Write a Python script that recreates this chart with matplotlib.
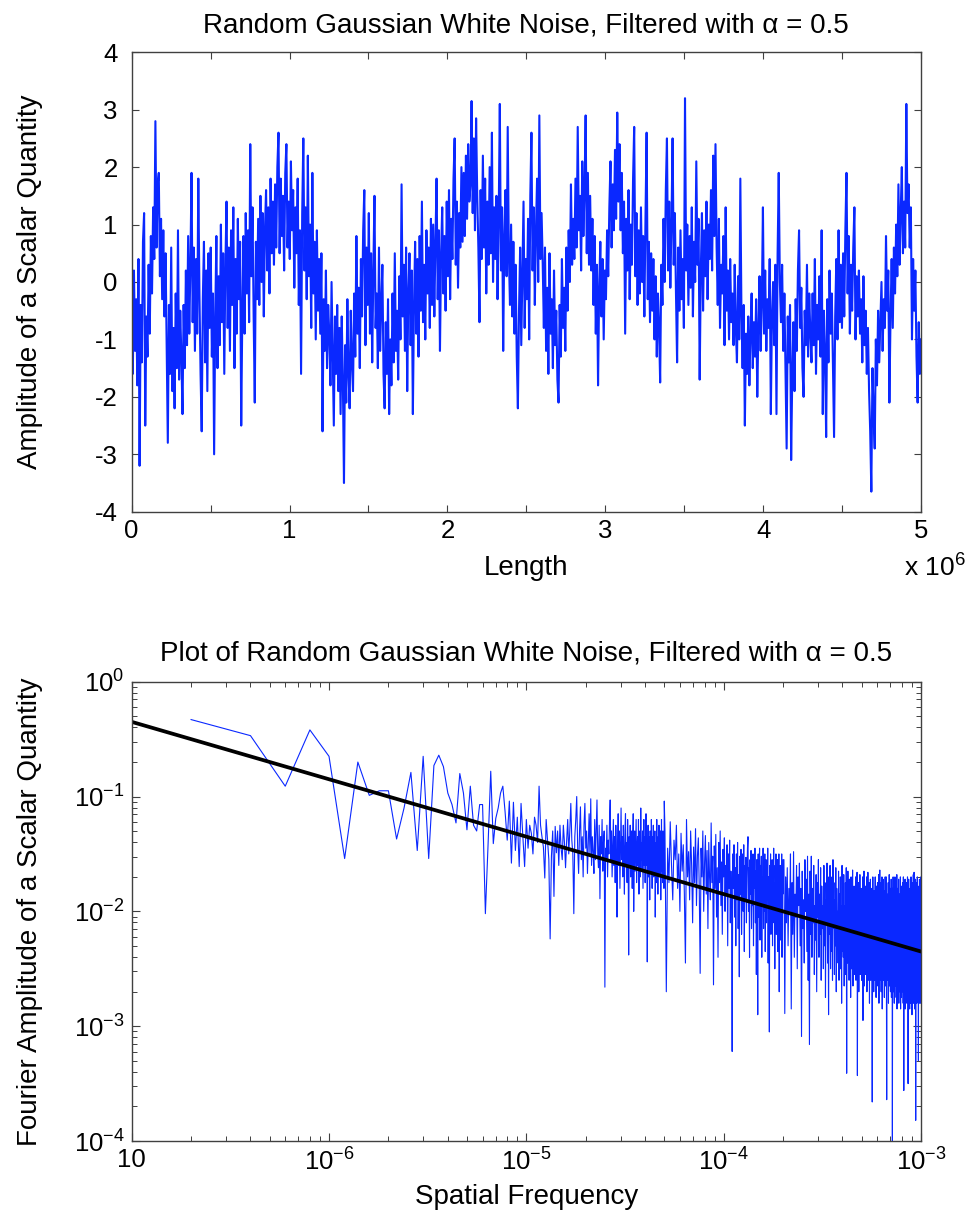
import numpy as np
import matplotlib
matplotlib.use('Agg')
import matplotlib.pyplot as plt
from matplotlib.ticker import FixedLocator, LogLocator, NullFormatter, FixedFormatter

plt.rcParams['font.family'] = ['Liberation Sans', 'DejaVu Sans']
plt.rcParams['mathtext.fontset'] = 'custom'
plt.rcParams['mathtext.rm'] = 'Liberation Sans'
plt.rcParams['mathtext.default'] = 'regular'

# ---------------- data: top panel (amplitude along length, 0 .. 5e6) ----------------
length_max = 5e6
top_amp = [
    -0.5, -1.6, 0.2, -1.2, -0.3, -1.8, 0.4, -3.2, -0.4, -1.4, 0.7, 1.2, -2.5, -0.6,
    -1.3, 0.3, -0.9, 0.8, -0.2, 1.3, 0.4, 2.8, 0.6, 1.7, 1.9, 0.1, 1.1, -0.3,
    0.9, -0.6, 0.5, -1.2, -2.8, -0.4, -1.6, 0.6, -1.9, -0.8, -2.2, -0.2, -1.5, 0.9,
    -1.7, -0.5, -1.3, -2.3, -0.4, -1.5, 0.2, -1.1, 0.8, -0.9, 0.3, 1.9, -0.7, 0.6,
    -1.2, 0.4, -0.9, 1.8, -0.2, -1.6, -2.6, -0.3, 0.7, -1.4, 0.2, -1.9, 0.5, -0.8,
    0.6, -1.3, -0.2, -3.0, -0.6, 0.8, -1.5, 0.1, -1.1, 1.0, -0.7, 0.5, -1.6, 0.3,
    1.4, -0.8, 0.6, -1.2, 0.9, -0.4, 1.3, -1.5, 0.4, -0.9, 1.1, -0.3, 0.7, -2.5,
    -0.5, 0.8, -0.9, 1.2, -0.2, 0.9, -0.7, 2.4, 0.1, 1.3, -0.6, -2.1, 0.7, -0.3,
    1.1, -0.4, 1.5, 0.0, 1.2, -0.6, 0.9, 1.6, 0.2, 1.3, -0.2, 1.8, 0.5, 1.4,
    0.3, 1.7, 0.6, 2.0, 2.6, 0.5, 1.8, 0.8, 1.5, 0.2, 1.9, 2.4, 0.6, 1.4,
    0.4, 2.1, 0.9, 1.6, -0.1, 1.3, 0.5, 1.8, -0.4, 0.9, -1.6, 1.2, 2.5, 0.2,
    1.3, -0.3, 2.2, 0.1, 1.0, -0.8, 1.9, -0.2, 0.7, -1.0, 0.9, -0.5, 0.4, -0.9,
    0.5, -2.6, -0.3, -1.2, 0.2, -1.5, -0.4, -0.9, -1.8, 0.0, -1.3, -2.5, -0.6, -1.6,
    -0.4, -1.9, -0.8, -2.3, -0.6, -1.7, -3.5, -1.1, -2.1, -0.3, -1.6, -2.2, -0.5, -1.4,
    -1.9, -0.2, -1.3, 0.8, -0.9, -0.1, -1.5, 0.4, -0.6, 0.9, 1.6, -1.1, 0.6, -0.4,
    1.2, -0.9, 0.5, -1.4, 0.2, 1.5, -0.8, -0.2, -1.5, 0.6, -1.2, -0.4, 0.3, -1.6,
    -2.2, -0.7, -1.6, -0.3, -2.3, -1.0, -1.8, -0.2, -1.4, 0.5, -1.2, -0.5, -1.7, 0.1,
    -1.0, 1.7, -0.6, 0.3, -1.2, 0.6, -1.9, -0.2, 0.5, -1.1, 0.2, -2.3, -0.4, 0.7,
    -0.9, 0.4, -1.3, 0.8, -0.5, 1.4, -0.7, 0.3, -1.0, 0.9, -0.2, 0.6, -0.8, 1.1,
    -0.4, 1.0, -0.6, 0.7, 1.8, -0.3, 0.9, -1.2, 0.5, 1.3, -0.2, 0.8, -0.5, 1.4,
    0.1, 1.6, -0.3, 1.1, 0.4, 1.8, 2.5, 0.3, 1.4, -0.1, 1.2, 0.6, 2.0, 0.7,
    1.9, 0.8, 2.2, 1.1, 2.4, 1.4, 1.7, 3.15, 1.2, 2.5, 0.9, 2.85, 1.5, 0.6,
    -0.7, 1.6, 0.4, 2.2, 0.6, 1.8, -0.2, 1.4, 0.3, 2.0, 0.5, 2.6, 0.0, 1.3,
    0.4, 1.5, -0.3, 1.1, 3.1, 0.2, 1.3, -1.2, 0.8, 1.6, 0.1, 2.7, 0.5, -0.4,
    1.0, -0.6, 0.7, -0.9, 0.3, -1.3, -2.2, -0.5, 0.6, -1.1, 0.2, 1.4, -0.8, 0.4,
    -0.3, 1.1, -1.0, 1.5, 2.6, 0.2, 1.3, -0.4, 0.9, 1.8, 0.0, 2.9, 0.4, 1.2,
    0.3, -0.8, 0.6, -1.2, -0.1, -1.6, 0.5, -0.9, -0.3, -1.5, 0.2, -1.1, -0.5, -1.7,
    -2.1, -0.4, -1.3, 0.4, -0.8, -0.1, -1.2, 0.6, -0.5, 0.9, 0.0, 1.7, 0.3, 1.1,
    0.4, 1.8, 0.6, 2.7, 0.9, 1.5, 0.2, 2.1, 0.8, 1.6, 2.9, 0.5, 1.9, 0.3,
    1.5, 0.2, 1.1, -0.4, 0.8, -0.9, 0.3, -1.8, -0.1, 0.7, -0.6, 0.4, -1.0, 0.2,
    -0.3, 0.9, 0.1, 1.3, 2.1, 0.6, 1.7, 0.9, 2.3, 1.1, 2.95, 1.4, 2.4, 0.9,
    1.9, 0.5, 1.4, -0.9, 1.1, 0.2, 1.6, -0.3, 1.0, 0.3, 1.8, 2.7, 0.1, 1.2,
    -0.4, 0.9, -0.2, 1.3, 0.0, 0.8, -0.6, 1.1, 2.6, -0.3, 0.7, -0.7, 0.5, -0.5,
    0.4, -1.0, 0.1, -1.3, -0.2, -0.8, -1.75, 0.3, -0.4, 1.1, 0.0, 1.6, 2.5, 0.2,
    1.4, -0.1, 1.0, 2.5, 0.3, 1.2, -0.2, -1.4, 0.6, -0.5, 0.9, -0.3, 0.4, -0.8,
    3.2, 0.2, 1.0, -0.4, 0.8, -0.1, 1.3, -0.6, 0.7, 0.0, 2.1, 0.3, 1.1, -1.7,
    0.2, 1.2, -0.5, 0.9, 0.1, 1.4, -0.3, 1.0, 0.4, 1.6, 0.2, 2.2, 0.8, 2.4,
    0.6, -0.4, 1.1, -0.8, 0.3, -0.2, 0.8, -1.1, 1.3, -0.5, 0.2, -1.0, 0.4, -0.7,
    -0.2, -1.1, 0.3, -0.8, -1.4, 0.1, -1.0, 1.8, -0.6, -1.5, -0.4, -2.5, -0.9, -1.6,
    -0.6, -1.8, -0.9, -0.2, -1.5, -0.7, -1.3, -0.3, -2.0, -0.8, 0.1, -1.2, -0.4, 1.3,
    -0.9, 0.2, -1.2, -0.3, -0.8, 0.4, -2.3, -0.6, 0.0, -1.1, 0.3, -2.3, 0.5, 1.9,
    0.0, -0.7, 0.3, -1.2, -0.2, -1.5, -2.9, -0.6, -1.4, -0.4, -3.1, -1.6, -0.7, -1.9,
    -0.3, -1.2, 0.2, 0.9, -0.8, -0.1, -1.5, -2.0, -0.5, -1.1, 0.3, -1.3, -0.2, -0.9,
    -1.4, -0.2, -1.1, 0.4, -1.6, -0.4, -1.0, 0.1, -1.3, 0.9, -2.3, -0.5, -1.2, -2.7,
    -0.3, -1.4, 0.2, -0.9, -0.2, -1.5, -2.7, -0.6, 0.4, -1.0, 0.9, -0.7, 0.3, -0.8,
    0.5, -0.6, 0.9, 1.9, -0.2, 0.8, -0.9, 0.3, -0.5, 0.6, 1.3, -1.0, 0.1, -0.6,
    0.2, -0.9, -0.3, -1.4, 0.1, -1.1, -0.5, -1.6, -0.8, -1.9, -2.6, -3.65, -1.5, -2.3,
    -2.9, -1.0, -1.8, -0.5, -1.4, -0.7, 0.0, -1.2, -0.3, -0.8, 0.8, -0.5, 0.2, -2.1,
    -0.6, 0.4, -0.8, 0.6, -0.2, 1.0, 0.1, 1.7, 0.3, 1.2, 2.0, 0.5, 1.4, 0.6,
    3.1, 1.2, 1.7, 0.6, 1.3, -1.0, 0.4, -0.5, 0.2, -1.3, -2.1, -0.7, -1.6, -1.0,
]

# ---------------- data: bottom panel (Fourier spectrum) ----------------
freq_step = 2e-7  # spacing of the frequency grid (1 / 5e6)
# log10 amplitude, harmonics k = 1 .. 250
spec_log10_low = [
    -0.33, -0.47, -0.91, -0.42, -0.65, -1.54, -0.70, -0.99, -0.95, -0.95,
    -1.37, -1.10, -0.79, -1.47, -0.65, -1.54, -0.73, -0.64, -0.74, -0.97,
    -1.07, -1.23, -0.80, -0.97, -1.29, -0.91, -1.25, -1.30, -1.07, -1.07,
    -2.02, -1.41, -0.78, -1.41, -1.19, -1.10, -0.97, -0.91, -1.13, -1.38,
    -1.04, -1.58, -1.05, -1.47, -1.18, -1.61,
    -1.06, -1.35, -1.61, -1.2, -1.45, -1.25, -1.32, -1.5, -1.18, -1.25,
    -1.4, -0.91, -1.25, -1.35, -1.44, -1.71, -1.2, -1.38, -1.55, -2.24,
    -1.52, -1.3, -1.87, -1.26, -1.49, -1.3, -1.6, -1.25, -1.45, -1.55,
    -1.25, -1.4, -1.62, -1.39, -1.2, -1.5, -1.3, -1.06, -1.38, -1.5,
    -2.02, -1.35, -1.2, -1.0, -1.45, -1.67, -1.3, -1.09, -1.55, -1.35,
    -1.70, -1.25, -1.06, -1.45, -1.3, -1.67, -1.4, -1.15, -1.5, -1.02,
    -1.6, -1.35, -1.48, -1.67, -1.2, -1.55, -1.3, -1.03, -1.5, -1.62,
    -1.25, -1.89, -1.35, -1.5, -1.2, -1.65, -1.4, -1.3, -2.66, -1.45,
    -1.55, -1.25, -1.7, -1.38, -1.5, -1.2, -1.03,
    -1.55, -1.3, -1.7, -1.45, -1.2, -1.6, -1.35, -1.75, -1.25, -1.5,
    -2.05, -1.4, -1.15, -1.6, -1.3, -1.8, -1.45, -1.1, -1.55, -1.35,
    -1.7, -1.25, -1.5, -1.85, -1.3, -1.15, -1.6, -1.4, -1.75, -1.2,
    -1.5, -2.38, -1.35, -1.6, -1.25, -1.7, -1.45, -1.3, -1.8, -1.4,
    -1.15, -2.0, -1.55, -1.3, -1.65, -1.4, -1.2, -1.75, -1.5, -1.35,
    -1.6, -1.2, -1.85, -1.45, -1.3, -1.7, -1.1, -1.55, -1.4, -1.65,
    -1.3, -1.8, -1.5, -1.2, -1.6, -1.35, -1.75, -1.45, -1.15, -1.6,
    -1.4, -2.44, -1.5, -1.25, -1.7, -1.35, -1.55, -1.9, -1.3, -1.45,
    -1.65, -1.2, -1.5, -1.8, -1.35, -1.6, -1.25, -1.7, -1.45, -1.55,
    -1.3, -2.05, -1.5, -1.4, -1.75, -1.2, -1.6, -1.45, -1.85, -1.35,
    -1.55, -1.25, -1.7, -1.4, -1.6, -1.3, -1.9, -1.5, -1.2, -1.65,
    -1.45, -1.75, -1.3, -1.6, -1.4, -1.8, -1.04,
]
# log10 amplitude, harmonics k = 252, 256, ..., 1000
spec_log10_mid = [
    -1.3, -2.7, -1.45, -1.75, -1.22, -1.6, -1.9, -1.38, -1.55, -1.25,
    -1.8, -1.5, -2.0, -1.32, -1.65, -1.42, -1.85, -2.45, -1.2, -1.7,
    -1.48, -1.9, -1.3, -1.6, -2.1, -1.44, -1.75, -1.28, -1.95, -1.52,
    -1.36, -1.8,
    -2.54, -1.45, -1.7, -1.3, -2.0, -1.58, -1.34, -1.85, -1.47, -2.15,
    -1.4, -1.7, -1.9, -1.23, -1.75, -1.52, -2.64, -1.43, -1.8, -1.33,
    -2.05, -1.62, -2.4, -1.4, -1.75, -1.3, -1.95, -1.57, -2.2, -1.46,
    -1.7, -1.36, -2.0, -1.6, -1.85, -1.42, -2.3, -1.5, -1.8, -1.38,
    -2.1, -1.65, -1.9, -3.22, -1.5,
    -1.8, -1.42, -2.05, -1.62, -2.3, -1.5, -1.9, -1.4, -2.15, -1.68,
    -2.57, -1.52, -1.85, -1.46, -2.2, -1.72, -1.5, -2.0, -1.42, -2.35,
    -1.6, -1.9, -1.53, -2.1, -1.7, -1.45, -1.35, -2.0, -1.62, -2.4,
    -1.55, -1.85, -1.47, -2.15, -1.74, -1.95, -1.5, -2.3, -1.6, -1.8,
    -1.45, -2.1, -1.65, -2.55, -1.55, -1.9, -2.9, -1.5, -2.05, -1.7,
    -1.45, -2.25, -1.6, -1.85, -1.52, -2.4, -1.7, -1.95, -1.45, -2.15,
    -1.6, -2.0, -1.5, -2.35, -1.75, -1.55, -2.1, -1.65, -1.9, -1.45,
    -2.45, -1.7, -2.0, -3.05, -1.6, -1.85, -1.5, -2.2, -1.72, -1.95,
    -1.55, -2.3, -1.65, -1.9, -1.45, -2.1, -1.75, -2.5, -1.6, -1.85,
    -1.5, -2.2, -1.7, -2.0, -1.55, -2.35, -1.65, -1.9, -1.5, -2.7,
    -1.75, -2.05, -1.6, -2.25, -1.7, -1.95, -1.5, -2.4, -1.65, -1.85,
    -1.55,
]
# log10 amplitude, harmonics k = 1010, 1020, ..., 5000
spec_log10_high = [
    -1.55, -2.89, -1.7, -2.1, -1.62, -2.3, -1.8, -2.0, -1.5, -2.85,
    -1.75, -2.2, -1.48, -2.4, -1.85, -2.05, -1.6, -2.5, -1.7, -1.95,
    -1.58, -2.3, -1.8, -3.09, -1.65, -2.15, -1.9, -2.45, -1.55, -2.0,
    -1.72, -2.35, -1.52, -2.6, -1.85, -3.16, -1.65, -2.2, -1.52, -2.4,
    -1.8, -2.1, -1.6, -2.55, -1.95, -2.25, -1.68, -2.7, -1.75, -2.05,
    -1.55, -2.4, -1.85, -2.2, -1.62, -2.6, -1.78, -2.15, -1.95, -2.5,
    -1.6, -2.3, -1.75, -2.75, -1.9, -2.1, -1.58, -2.45, -1.7, -2.9,
    -1.82, -2.2, -1.6, -2.5, -1.95, -2.35, -1.7, -2.6, -1.55, -2.15,
    -1.75, -2.55, -1.9, -2.3, -1.62, -2.7, -1.8, -2.25, -2.0, -2.45,
    -1.65, -2.6, -1.85, -2.2, -1.7, -2.5, -1.95, -2.8, -1.6, -2.35,
    -1.85, -2.4, -1.68, -2.65, -1.95, -2.3, -1.75, -2.55, -1.62, -3.41,
    -1.8, -2.45, -1.65, -2.2, -1.9, -2.6, -1.72, -2.35, -2.0, -2.75,
    -1.7, -2.5, -1.88, -2.3, -1.64, -2.65, -1.95, -2.4, -1.78, -2.55,
    -1.9, -2.3, -1.7, -2.6, -2.02, -2.45, -1.66, -3.43, -1.85, -2.35,
    -1.75, -2.7, -1.95, -2.4, -1.68, -2.55, -1.9, -2.3, -1.8, -2.6,
    -2.0, -2.5, -1.7, -2.95, -1.88, -2.4, -1.65, -2.65, -1.95, -2.35,
    -1.78, -2.55, -1.98, -2.45, -1.7, -2.7, -1.9, -2.4, -1.66, -2.6,
    -1.95, -2.5, -1.75, -2.8, -2.05, -2.35, -1.72, -2.6, -1.9, -2.45,
    -1.8, -2.65, -3.66, -2.4, -1.7, -2.55, -2.0, -2.7, -1.82, -2.45,
    -2.05, -2.6, -1.7, -2.5, -1.92, -2.75, -1.78, -2.4, -2.1, -2.65,
    -1.75, -2.55, -2.0, -2.45, -1.68, -2.8, -1.9, -2.5, -1.64, -2.6,
    -1.98, -2.4, -1.75, -2.7, -2.08, -2.5, -1.7, -2.85, -1.88, -2.45,
    -1.72, -2.6, -2.0, -2.5, -1.82, -2.75, -2.1, -2.4, -1.7, -2.65,
    -1.95, -2.55, -1.7, -2.7, -3.64, -2.45, -1.85, -2.6, -2.05, -2.5,
    -1.75, -2.8, -1.98, -2.45, -1.68, -2.65, -2.1, -2.55, -1.8, -2.7,
    -2.0, -2.5, -1.72, -2.75, -1.92, -2.6, -1.8, -4.2, -2.05, -2.55,
    -1.7, -2.7, -2.1, -2.45, -1.82, -2.8, -1.95, -2.55, -1.7, -2.65,
    -2.05, -2.5, -1.75, -2.75, -1.98, -2.6, -1.68, -2.85, -2.1, -2.45,
    -1.8, -2.7, -2.0, -2.55, -1.72, -2.8, -2.08, -2.6, -1.85, -2.7,
    -1.95, -2.5, -1.7, -2.85, -2.1, -2.6, -1.78, -2.75, -2.0, -2.55,
    -2.08, -2.7, -1.75, -2.6, -1.95, -2.8, -1.7, -2.65, -3.56, -2.5,
    -1.82, -2.75, -2.1, -2.55, -1.72, -2.85, -1.95, -2.6, -2.05, -2.7,
    -1.75, -2.6, -1.98, -2.8, -2.1, -2.5, -1.7, -2.7, -1.9, -3.5,
    -2.05, -2.65, -1.72, -2.75, -1.95, -2.55, -2.12, -2.85, -1.8, -2.6,
    -1.9, -2.8, -2.08, -2.6, -1.7, -2.7, -2.0, -2.55, -1.82, -2.9,
    -1.75, -2.65, -2.05, -2.75, -1.92, -2.6, -1.68, -2.8, -2.1, -2.7,
    -1.66, -2.6, -2.0, -2.85, -1.8, -2.55, -2.1, -2.75, -1.72, -3.82,
    -1.95, -2.7, -1.75, -2.6, -2.08, -2.8, -1.85, -2.65, -1.7, -2.75,
    -2.0, -2.6, -1.78, -2.85, -3.3, -2.7, -1.95, -2.55, -2.1, -2.8,
    -1.72, -2.65, -2.05, -2.75, -1.85, -2.6, -1.98, -2.8, -1.7, -2.5,
]
# straight power-law fit line (end points)
fit_freq = [1e-7, 1e-3]
fit_amp = [0.447, 0.00447]

x_tick_labels_top = ['0', '1', '2', '3', '4', '5']
x_tick_labels_bottom = ['10', '$10^{-6}$', '$10^{-5}$', '$10^{-4}$', '$10^{-3}$']
y_tick_labels_bottom = ['$10^{-4}$', '$10^{-3}$', '$10^{-2}$', '$10^{-1}$', '$10^{0}$']

# ---------------- build arrays ----------------
top_y = np.array(top_amp)
top_x = np.linspace(0, length_max, len(top_y))

k_low = np.arange(1, len(spec_log10_low) + 1)
k_mid = 252 + 4 * np.arange(len(spec_log10_mid))
k_high = 1010 + 10 * np.arange(len(spec_log10_high))
spec_k = np.concatenate([k_low, k_mid, k_high])
spec_f = spec_k * freq_step
spec_a = 10.0 ** np.concatenate([spec_log10_low, spec_log10_mid, spec_log10_high])

# ---------------- figure ----------------
fig = plt.figure(figsize=(9.74, 12.21), dpi=100)
spine_col = '#404040'
blue = '#0a28ff'

ax1 = fig.add_axes([0.1352, 0.5809, 0.8104, 0.3763])
ax1.plot(top_x, top_y, color=blue, lw=1.5)
ax1.set_xlim(0, length_max)
ax1.set_ylim(-4, 4)
ax1.xaxis.set_major_locator(FixedLocator(np.arange(0, 5.01, 1) * 1e6))
ax1.xaxis.set_major_formatter(FixedFormatter(x_tick_labels_top))
ax1.xaxis.set_minor_locator(FixedLocator(np.arange(0.5, 5, 1) * 1e6))
ax1.set_yticks(np.arange(-4, 4.1, 1))
ax1.set_yticklabels([str(v) for v in range(-4, 5)])
ax1.tick_params(which='both', direction='in', top=True, right=True, length=5,
                width=0.8, color=spine_col)
ax1.tick_params(axis='x', labelsize=18.5, pad=5)
ax1.tick_params(axis='y', labelsize=18.5, pad=10)
for s in ax1.spines.values():
    s.set_color(spine_col)
    s.set_linewidth(1.0)
ax1.set_title('Random Gaussian White Noise, Filtered with α = 0.5', fontsize=20, pad=14)
ax1.set_xlabel('Length', fontsize=20)
ax1.xaxis.set_label_coords(0.5, -0.094)
ax1.set_ylabel('Amplitude of a Scalar Quantity', fontsize=20)
ax1.yaxis.set_label_coords(-0.112, 0.5)
ax1.text(1.017, -0.142, r'x 10$^{6}$', transform=ax1.transAxes, fontsize=19,
         ha='center', va='baseline')

ax2 = fig.add_axes([0.1352, 0.0655, 0.8104, 0.3762])
ax2.plot(spec_f, spec_a, color=blue, lw=0.8)
ax2.plot(fit_freq, fit_amp, color='black', lw=2.7)
ax2.set_xscale('log')
ax2.set_yscale('log')
ax2.set_xlim(1e-7, 1e-3)
ax2.set_ylim(1e-4, 1e0)
ax2.xaxis.set_major_locator(FixedLocator([1e-7, 1e-6, 1e-5, 1e-4, 1e-3]))
ax2.xaxis.set_major_formatter(FixedFormatter(x_tick_labels_bottom))
ax2.yaxis.set_major_locator(FixedLocator([1e-4, 1e-3, 1e-2, 1e-1, 1e0]))
ax2.yaxis.set_major_formatter(FixedFormatter(y_tick_labels_bottom))
ax2.xaxis.set_minor_locator(LogLocator(base=10, subs=np.arange(2, 10), numticks=20))
ax2.yaxis.set_minor_locator(LogLocator(base=10, subs=np.arange(2, 10), numticks=20))
ax2.xaxis.set_minor_formatter(NullFormatter())
ax2.yaxis.set_minor_formatter(NullFormatter())
ax2.tick_params(which='major', direction='in', top=True, right=True, length=6,
                width=0.8, color=spine_col)
ax2.tick_params(which='minor', direction='in', top=True, right=True, length=3.5,
                width=0.7, color=spine_col)
ax2.tick_params(axis='x', labelsize=18.5, pad=5)
ax2.tick_params(axis='y', labelsize=18.5, pad=5)
for s in ax2.spines.values():
    s.set_color(spine_col)
    s.set_linewidth(1.0)
ax2.set_title('Plot of Random Gaussian White Noise, Filtered with α = 0.5', fontsize=20, pad=15)
ax2.set_xlabel('Spatial Frequency', fontsize=20)
ax2.xaxis.set_label_coords(0.5, -0.094)
ax2.set_ylabel('Fourier Amplitude of a Scalar Quantity', fontsize=20)
ax2.yaxis.set_label_coords(-0.112, 0.5)

fig.savefig('out.png', dpi=100)
